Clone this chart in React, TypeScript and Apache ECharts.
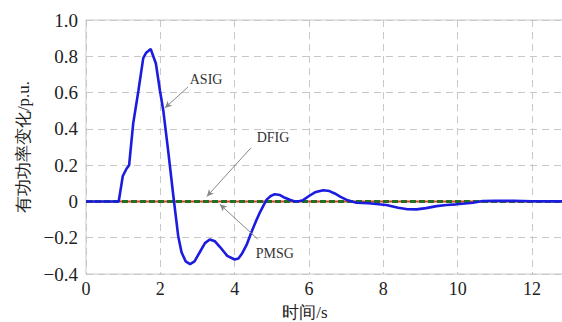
import React, { useEffect, useRef } from "react";
import * as echarts from "echarts";

const asigT = [0, 0.88, 0.99, 1.09, 1.16, 1.27, 1.41, 1.54, 1.62, 1.74, 1.88, 1.99, 2.08, 2.21, 2.35, 2.48, 2.57, 2.68, 2.8, 2.92, 3.06, 3.2, 3.33, 3.47, 3.6, 3.8, 4.0, 4.1, 4.19, 4.32, 4.45, 4.57, 4.68, 4.78, 4.86, 4.97, 5.08, 5.22, 5.35, 5.5, 5.62, 5.75, 5.84, 6.0, 6.16, 6.38, 6.55, 6.69, 6.85, 7.0, 7.15, 7.28, 7.6, 8.08, 8.4, 8.65, 8.89, 9.15, 9.43, 9.7, 9.96, 10.2, 10.41, 10.68, 11, 11.5, 12, 13.5];
const asigV = [0, 0, 0.14, 0.18, 0.2, 0.43, 0.61, 0.79, 0.82, 0.84, 0.76, 0.61, 0.5, 0.28, 0.03, -0.19, -0.28, -0.33, -0.345, -0.33, -0.28, -0.23, -0.21, -0.22, -0.25, -0.3, -0.32, -0.315, -0.29, -0.24, -0.17, -0.11, -0.06, -0.02, 0.01, 0.03, 0.04, 0.035, 0.02, 0.008, 0, 0.002, 0.007, 0.03, 0.05, 0.062, 0.057, 0.044, 0.025, 0.01, 0, -0.007, -0.01, -0.02, -0.035, -0.043, -0.044, -0.037, -0.026, -0.02, -0.016, -0.011, -0.007, 0.002, 0.004, 0.003, 0.001, 0];
const dfigT = [0, 13.5];
const dfigV = [0, 0];
const pmsgT = [0, 13.5];
const pmsgV = [0, 0];

const xTicks = [0, 2, 4, 6, 8, 10, 12];
const yTicks = [-0.4, -0.2, 0, 0.2, 0.4, 0.6, 0.8, 1.0];

const labelNames = ["ASIG", "DFIG", "PMSG"];
const labelPos = [[3.23, 0.67], [5.03, 0.35], [5.08, -0.285]];
const arrowFrom = [[2.74, 0.63], [4.44, 0.296], [4.62, -0.208]];
const arrowTo = [[2.12, 0.515], [3.25, 0.027], [3.6, -0.016]];

const FONT = "Times New Roman, Liberation Serif, DejaVu Serif, serif";

export default function App() {
  const ref = useRef<HTMLDivElement>(null);
  useEffect(() => {
    document.body.style.margin = "0";
    const chart = echarts.init(ref.current!, null, { renderer: "svg" });
    const zip = (t: number[], v: number[]) => t.map((x, i) => [x, v[i]]);
    chart.setOption({
      animation: false,
      grid: {
        left: 86,
        top: 20,
        right: 12.2,
        bottom: 48,
        containLabel: false,
        outerBoundsMode: "none",
        show: true,
        borderColor: "#c8c8c8",
        borderWidth: 1,
        backgroundColor: "transparent",
      },
      xAxis: {
        type: "value",
        min: 0,
        max: 13.5,
        interval: 2,
        name: "时间/s",
        nameLocation: "middle",
        nameGap: 30,
        nameTextStyle: {
          fontFamily: FONT,
          fontSize: 17,
          color: "#222",
          padding: [0, 64, 0, 0],
        },
        axisLine: { show: false },
        axisTick: { show: false },
        axisLabel: {
          showMaxLabel: false,
          fontFamily: FONT,
          fontSize: 18,
          color: "#222",
          margin: 6,
          formatter: (v: number) => (xTicks.includes(v) ? String(v) : ""),
        },
        splitLine: { show: true, lineStyle: { color: "#c8c8c8", type: [7, 5], width: 1 } },
      },
      yAxis: {
        type: "value",
        min: -0.4,
        max: 1.0,
        interval: 0.2,
        name: "有功功率变化/p.u.",
        nameLocation: "middle",
        nameRotate: 90,
        nameGap: 54,
        nameTextStyle: {
          fontFamily: FONT,
          fontSize: 17,
          color: "#222",
        },
        axisLine: { show: false },
        axisTick: { show: false },
        axisLabel: {
          fontFamily: FONT,
          fontSize: 19,
          color: "#222",
          margin: 8,
          formatter: (v: number) => {
            const r = Math.round(v * 10) / 10;
            if (!yTicks.some((y) => Math.abs(y - r) < 1e-9)) return "";
            return r === 0 ? "0" : r < 0 ? "\u2212" + Math.abs(r).toFixed(1) : r.toFixed(1);
          },
        },
        splitLine: { show: true, lineStyle: { color: "#c8c8c8", type: [7, 5], width: 1 } },
      },
      series: [
        {
          name: "PMSG",
          type: "line",
          data: zip(pmsgT, pmsgV),
          symbol: "none",
          lineStyle: { color: "#e23a2a", width: 2 },
          z: 2,
        },
        {
          name: "DFIG",
          type: "line",
          data: zip(dfigT, dfigV),
          symbol: "none",
          lineStyle: { color: "#237023", width: 3, type: [6, 3] },
          z: 3,
        },
        {
          name: "ASIG",
          type: "line",
          data: zip(asigT, asigV),
          symbol: "none",
          lineStyle: { color: "#1c1ce0", width: 2.6 },
          z: 4,
          markLine: {
            silent: true,
            symbol: ["none", "arrow"],
            symbolSize: [5, 7],
            label: { show: false },
            lineStyle: { color: "#888", width: 1, type: "solid" },
            itemStyle: { color: "#333" },
            emphasis: { disabled: true },
            data: arrowFrom.map((f, i) => [
              { coord: f },
              { coord: arrowTo[i] },
            ]),
          },
          markPoint: {
            silent: true,
            symbol: "circle",
            symbolSize: 0,
            label: {
              show: true,
              position: "inside",
              fontFamily: FONT,
              fontSize: 14,
              color: "#333",
              formatter: (p: any) => p.name,
            },
            data: labelNames.map((n, i) => ({ name: n, coord: labelPos[i] })),
          },
        },
      ],
    });
    return () => chart.dispose();
  }, []);
  return (
    <div style={{ width: 562, height: 322, overflow: "hidden", position: "relative" }}>
      <div ref={ref} style={{ width: 600, height: 322 }} />
    </div>
  );
}
